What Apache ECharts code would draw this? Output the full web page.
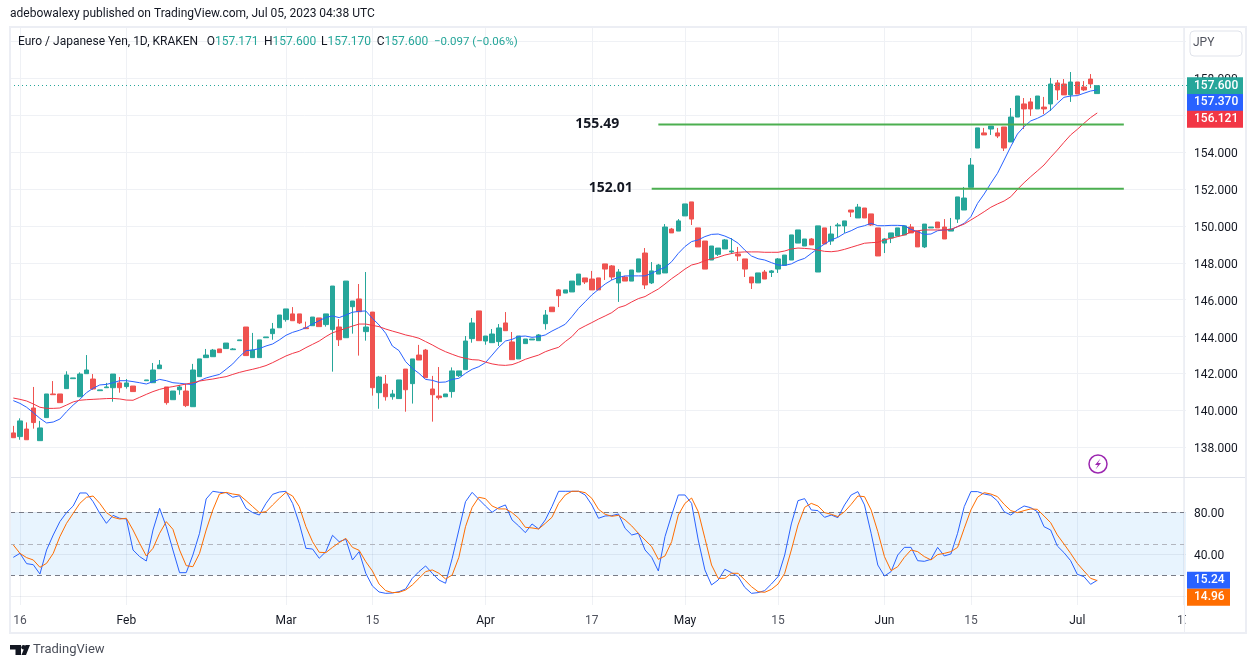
<!DOCTYPE html>
<html>
<head>
<meta charset="utf-8">
<title>EUR/JPY daily</title>
<script src="https://cdn.jsdelivr.net/npm/echarts@6/dist/echarts.min.js"></script>
<style>
  html, body { margin: 0; padding: 0; background: #fff; }
  #chart { width: 1256px; height: 668px; }
</style>
</head>
<body>
<div id="chart"></div>
<script>
// Daily candles, one entry per session; null marks the session without a print.
const opens = [
138.78,138.58,138.99,140.13,138.36,139.61,140.89,140.89,141.18,141.72,
140.74,141.99,141.70,141.07,141.23,141.23,141.49,141.29,141.32,null,
141.61,141.50,142.26,141.27,140.58,141.12,141.05,140.20,141.83,142.86,
142.91,143.33,143.35,143.29,143.78,144.52,142.86,142.86,143.94,144.16,
144.48,144.92,145.23,145.23,144.48,144.59,145.01,144.65,144.38,144.52,
143.94,145.62,146.04,144.27,145.33,140.96,141.43,140.74,140.64,142.24,
141.45,143.00,143.27,141.16,140.78,140.74,141.02,141.88,142.21,143.89,
145.39,143.76,143.67,143.73,144.74,143.71,142.79,143.62,143.82,143.78,
144.70,145.60,146.53,146.36,146.42,146.80,147.18,147.12,147.18,147.94,
147.83,146.91,147.23,147.01,147.50,148.53,146.91,147.39,147.45,149.83,
149.72,150.54,151.30,149.89,149.18,148.15,148.46,148.75,148.59,148.48,
148.21,147.23,146.91,147.50,147.48,147.66,147.86,148.15,149.07,148.91,
149.29,147.50,149.89,149.18,150.00,150.00,150.86,150.43,150.97,150.65,
149.89,149.07,149.34,149.45,149.51,149.94,149.72,148.86,149.89,150.21,
149.94,149.72,150.37,150.86,152.09,154.22,155.04,155.25,155.04,155.36,
154.55,155.90,156.61,156.72,156.34,156.44,156.61,157.75,157.69,157.10,
157.80,157.53,157.96,157.171];
const closes = [
138.52,139.43,138.41,139.34,139.05,140.89,140.85,140.42,141.92,141.76,
141.97,142.19,141.16,141.11,141.27,141.97,141.23,141.49,141.02,null,
141.65,142.19,142.46,140.42,141.05,141.27,140.26,142.19,142.79,143.00,
143.27,143.13,143.65,143.33,143.82,142.97,143.27,143.82,143.98,144.41,
145.17,145.50,144.86,144.74,144.43,145.06,144.54,145.23,146.74,143.83,
147.01,145.93,145.35,144.52,141.23,141.81,140.74,140.89,141.65,141.12,
142.79,142.73,141.77,140.85,140.69,140.89,142.14,142.14,143.76,144.74,
143.78,144.03,144.14,144.47,144.32,142.75,144.03,143.87,143.87,144.09,
145.17,145.35,146.22,146.53,147.01,147.39,146.96,146.53,146.53,147.66,
147.23,147.50,147.01,147.61,148.21,146.80,147.56,147.88,149.94,149.62,
150.27,151.19,150.37,148.86,147.66,148.91,148.80,149.24,148.64,148.37,
147.66,146.91,147.45,147.12,147.56,148.21,148.42,149.51,149.78,149.29,
148.97,150.00,149.02,149.56,150.05,150.27,150.75,151.02,150.43,150.05,
148.37,149.29,149.62,149.89,150.00,149.62,148.86,150.10,149.94,149.89,
149.29,149.83,151.57,151.51,153.30,155.31,154.93,155.41,154.87,154.22,
155.90,157.04,156.34,156.34,157.04,156.34,157.69,157.37,157.10,157.80,
157.15,157.37,157.697,157.60];
const lows = [
138.52,138.41,138.41,139.01,138.36,139.61,140.85,140.42,141.18,141.72,
140.74,141.99,141.11,141.07,141.23,140.47,140.96,141.18,141.02,null,
141.61,141.50,142.26,140.31,140.58,140.85,140.18,140.20,141.83,142.86,
142.91,143.13,143.35,143.29,143.78,142.97,142.86,142.86,143.94,143.83,
144.48,144.81,144.86,144.68,144.43,144.59,144.54,144.54,142.10,143.49,
143.94,144.16,142.97,143.78,140.80,140.09,140.53,140.58,140.64,139.93,
140.37,142.73,141.77,139.39,140.58,140.74,140.69,141.81,142.21,143.67,
143.78,143.56,143.67,143.49,144.32,142.75,142.79,143.62,143.82,143.78,
144.38,145.35,145.60,146.36,146.42,146.80,146.85,146.53,146.53,147.07,
147.07,145.88,147.01,147.01,147.50,146.58,146.85,147.39,147.45,149.62,
149.72,150.54,150.05,148.86,147.66,148.15,148.37,148.75,148.48,148.10,
147.23,146.58,146.91,147.12,147.23,147.45,147.86,148.15,149.07,148.91,
148.97,147.50,149.02,148.97,149.40,149.62,150.48,150.43,150.43,150.00,
148.37,148.53,149.07,149.45,149.51,149.62,148.86,148.80,149.89,149.89,
149.29,149.72,150.16,150.86,152.09,154.22,154.93,154.93,154.76,154.06,
154.55,155.90,155.25,155.96,156.34,156.06,156.23,156.82,157.10,156.72,
157.15,157.31,157.47,157.17];
const highs = [
139.16,139.57,139.35,141.27,139.43,140.89,141.59,140.89,142.12,141.76,
142.06,143.00,141.97,141.11,141.49,141.97,141.81,141.70,141.32,null,
141.65,142.57,142.73,141.27,141.05,141.38,141.43,142.52,142.79,143.33,
143.33,143.33,143.65,143.38,143.82,144.52,144.20,143.82,143.98,144.74,
145.17,145.50,145.60,145.23,144.81,145.06,145.01,145.23,146.74,144.95,
147.01,145.93,146.85,147.50,145.33,141.87,141.92,141.11,141.65,142.24,
142.79,143.55,143.33,141.87,142.35,140.89,142.33,142.14,144.03,145.01,
145.39,144.03,144.41,144.68,145.33,144.25,144.03,143.87,143.87,144.14,
145.44,145.60,146.58,146.53,147.01,147.39,147.18,147.56,147.18,147.94,
147.88,147.66,147.29,147.61,148.21,148.80,148.04,147.94,150.10,149.89,
150.37,151.19,151.30,149.89,149.18,148.91,148.80,149.29,149.34,148.86,
148.21,147.23,147.45,147.61,147.61,148.26,148.42,149.51,149.78,149.29,
149.34,150.00,149.89,150.00,150.16,150.27,150.86,151.19,150.97,150.65,
149.89,149.34,149.62,149.89,150.00,150.10,149.72,150.10,149.94,150.21,
150.37,150.43,151.57,152.11,153.68,155.31,155.31,155.41,155.31,155.36,
156.39,157.04,156.93,156.93,157.04,156.99,158.02,157.91,157.96,158.34,
157.80,157.85,158.23,157.60];

// Moving averages on the price pane.
const maFast = [
140.53,140.38,140.17,139.88,139.57,139.32,139.37,139.53,139.93,140.29,
140.60,140.96,141.20,141.38,141.41,141.50,141.61,141.61,141.56,141.50,
141.43,141.56,141.68,141.61,141.50,141.47,141.43,141.40,141.61,141.76,
141.86,141.95,142.23,142.52,142.91,143.24,143.27,143.35,143.49,143.60,
143.82,144.07,144.23,144.34,144.48,144.68,144.86,145.04,145.12,145.03,
145.17,145.32,145.37,145.39,144.99,144.63,144.18,143.49,143.24,142.64,
142.28,142.01,141.68,141.63,141.52,141.54,141.68,141.74,142.01,142.23,
142.37,142.59,143.00,143.42,143.76,143.85,144.01,144.03,143.96,144.00,
144.09,144.30,144.48,144.67,145.08,145.53,145.89,146.26,146.56,146.85,
147.07,147.21,147.29,147.29,147.29,147.29,147.43,147.61,147.75,148.06,
148.51,148.88,149.15,149.24,149.42,149.54,149.56,149.45,149.29,149.06,
148.69,148.37,148.22,148.15,148.01,147.88,147.86,147.94,148.12,148.24,
148.51,148.78,149.02,149.24,149.38,149.60,149.74,149.92,150.01,150.14,
150.01,150.01,150.03,150.03,150.01,149.81,149.69,149.54,149.56,149.74,
149.78,149.80,149.96,150.14,150.50,151.22,151.73,152.31,152.85,153.57,
154.30,154.98,155.38,155.69,155.83,156.01,156.28,156.64,156.97,157.04,
157.06,157.19,157.31,157.37];
const maSlow = [
140.67,140.60,140.51,140.35,140.17,140.11,140.11,140.13,140.29,140.46,
140.55,140.58,140.60,140.62,140.64,140.65,140.62,140.56,140.55,140.71,
140.87,141.02,141.14,141.23,141.29,141.36,141.43,141.50,141.59,141.65,
141.70,141.77,141.83,141.95,142.06,142.15,142.23,142.32,142.43,142.59,
142.77,142.95,143.09,143.20,143.40,143.58,143.76,144.00,144.21,144.32,
144.45,144.57,144.68,144.68,144.61,144.54,144.41,144.30,144.20,144.09,
144.01,143.91,143.73,143.55,143.35,143.18,143.04,142.91,142.82,142.75,
142.73,142.62,142.52,142.46,142.44,142.48,142.61,142.77,142.89,143.00,
143.18,143.31,143.42,143.73,144.00,144.39,144.58,144.76,144.95,145.12,
145.30,145.57,145.68,145.88,146.06,146.17,146.38,146.58,146.85,147.14,
147.39,147.66,147.88,147.97,148.12,148.21,148.30,148.42,148.50,148.57,
148.59,148.59,148.59,148.57,148.57,148.57,148.64,148.75,148.80,148.78,
148.75,148.69,148.62,148.60,148.64,148.73,148.84,148.95,149.06,149.09,
149.11,149.24,149.33,149.42,149.51,149.67,149.74,149.78,149.78,149.78,
149.78,149.81,149.96,150.10,150.32,150.54,150.77,151.01,151.19,151.35,
151.58,151.98,152.34,152.67,152.98,153.30,153.72,154.11,154.53,154.93,
155.23,155.56,155.87,156.121];

// Stochastic oscillator, %K and %D.
const stochK = [
37.1,40.9,31.1,30.1,21.2,44.1,58.4,71.1,79.7,86.0,
98.4,98.4,90.1,79.0,69.5,77.1,74.3,73.6,44.1,37.8,
33.6,63.1,83.8,66.3,44.1,22.5,22.5,39.3,60.0,92.7,
100,99.0,98.7,94.3,95.8,83.8,79.7,77.4,88.5,97.1,
99.3,100,88.5,69.5,45.7,45.0,36.2,42.5,58.1,52.0,
54.3,34.6,42.5,21.9,9.8,4.1,2.8,3.1,4.4,7.0,
17.1,23.5,28.9,21.9,15.5,12.4,36.2,63.1,90.1,99.0,
92.4,86.0,80.0,84.4,87.0,72.7,67.0,60.6,68.9,64.1,
72.7,85.4,100,100,100,100,96.5,87.0,74.3,76.5,
76.8,78.4,64.7,58.4,60.0,44.1,37.1,24.1,56.8,77.4,
96.5,96.5,88.5,53.6,25.1,10.8,15.5,25.7,22.5,18.7,
8.5,2.8,3.5,5.4,11.7,18.7,39.3,68.9,91.1,93.0,
82.2,81.6,75.2,77.4,74.9,87.0,96.5,99.7,87.0,60.0,
29.8,19.3,23.5,39.3,46.6,46.6,33.9,33.3,35.2,46.6,
38.4,40.3,60.0,85.4,99.7,99.7,97.4,96.2,90.8,80.6,
77.4,82.2,86.0,84.4,80.6,66.3,63.1,47.9,41.6,33.9,
20.9,18.7,11.4,15.24];
const stochD = [
48.9,40.9,36.8,34.6,27.6,31.4,40.9,56.8,69.5,79.0,
88.5,94.3,95.5,88.5,79.7,75.2,73.6,74.3,63.1,50.4,
38.4,45.7,60.0,71.1,63.8,44.1,29.2,28.2,40.9,63.1,
82.2,97.4,99.0,97.4,96.5,91.1,85.4,79.7,80.6,87.0,
93.3,99.0,95.5,85.4,66.3,52.0,41.9,41.6,46.6,51.1,
55.2,46.6,43.8,33.0,24.1,11.7,5.4,3.5,3.8,6.0,
10.8,17.1,23.5,25.1,21.9,16.5,20.3,37.1,66.3,84.7,
94.3,93.0,86.0,83.2,83.2,79.7,74.3,65.7,65.1,64.1,
69.5,75.2,88.5,96.5,100,100,98.7,93.3,82.8,78.1,
76.2,77.1,72.7,67.0,60.0,53.6,47.3,35.2,38.4,52.0,
77.4,88.5,93.6,80.6,55.2,29.8,17.1,17.1,21.9,21.9,
15.5,9.2,4.4,3.8,6.6,11.7,21.9,44.1,67.9,84.7,
88.5,86.0,79.7,78.1,75.9,80.6,87.6,95.5,94.9,82.2,
61.6,37.8,24.4,28.2,37.1,44.1,42.5,37.8,34.6,39.7,
40.9,42.5,46.6,64.7,82.2,94.3,98.7,97.4,94.9,87.6,
81.6,79.7,81.6,83.2,82.8,76.5,70.1,58.4,49.8,40.9,
31.4,24.1,17.1,14.96];

// Time scale: the session index of each labelled date.
const tickIndex = [1, 17, 41, 54, 71, 87, 101, 115, 131, 144, 160, 176];
const tickText = ['16', 'Feb', 'Mar', '15', 'Apr', '17', 'May', '15', 'Jun', '15', 'Jul', '17'];
const monthText = ['Feb', 'Mar', 'Apr', 'May', 'Jun', 'Jul'];
const sessionSlots = 177;

// Drawn support levels: [price, first session, last session].
const levelUpper = [155.49, 97, 167];
const levelLower = [152.01, 96, 167];

const stochBandLow = 20, stochBandMid = 50, stochBandHigh = 80;
const stochGrid = [0, 40, 80];
const stochLabels = [40, 80];
const priceChange = '−0.097 (−0.06%)';

const FONT = 'Roboto, sans-serif';
const INK = '#131722', GRID = '#eff1f5', FRAME = '#eceef4';
const UP = '#26A69A', DOWN = '#EF5350', BLUE = '#2962FF', RED = '#F23645', ORANGE = '#FF6D00', GREEN = '#4CAF50';

const categories = Array.from({ length: sessionSlots }, (_, i) => {
  const p = tickIndex.indexOf(i);
  return p >= 0 ? tickText[p] : '';
});
const isTick = (i) => tickIndex.indexOf(i) >= 0;
const candles = opens.map((o, i) => (o === null ? '-' : [o, closes[i], lows[i], highs[i]]));
const last = (a) => a[a.length - 1];

// Price scale text sits just under its grid line.
const scaleLabelRich = { s: { color: INK, fontSize: 12, fontFamily: FONT, padding: [4, 0, 0, 0] } };

// Value tag sitting on the price scale, attached to a level on the y axis.
function tag(value, digits, bg, width, dy) {
  return {
    yAxis: value,
    lineStyle: { color: 'transparent', width: 0 },
    label: {
      show: true, position: 'end', distance: 0,
      formatter: () => value.toFixed(digits),
      color: '#fff', backgroundColor: bg, fontFamily: FONT, fontSize: 12, fontWeight: 500,
      width: width, height: 17, lineHeight: 17, padding: [0, 0, 0, 7],
      offset: [0, dy]
    }
  };
}

function levelSeries(level, dist) {
  return {
    type: 'line', xAxisIndex: 0, yAxisIndex: 0,
    data: [
      { value: [level[1], level[0]], label: {
        show: true, position: 'left', distance: dist, offset: [0, -1], formatter: () => level[0].toFixed(2),
        fontFamily: '"Open Sans", sans-serif', fontSize: 14, fontWeight: 'bold', color: INK } },
      [level[2], level[0]]
    ],
    symbol: 'circle', symbolSize: 0, showSymbol: true, silent: true,
    lineStyle: { color: GREEN, width: 2 }, z: 3
  };
}

const hLine = (x1, y1, x2, y2, color, z, w) => ({
  type: 'line', silent: true, z: z,
  shape: { x1, y1, x2, y2 }, style: { stroke: color, lineWidth: w || 1 }
});
const headerText = (x, text) => ({
  type: 'text', silent: true, z: 8, x: x, y: 42,
  style: {
    text: text, font: '12px ' + FONT, fill: INK, verticalAlign: 'middle',
    rich: { v: { fill: UP, font: '12px ' + FONT } }
  }
});
const quote = (letter, value) => letter + '{v|' + value.toFixed(3) + '}';

const chart = echarts.init(document.getElementById('chart'), null, { renderer: 'canvas' });
chart.setOption({
  animation: false,
  backgroundColor: '#fff',
  textStyle: { fontFamily: FONT },
  grid: [
    { left: 10, width: 1177, top: 27.3, height: 456.9 },
    { left: 10, width: 1177, top: 477.3, height: 127.7 }
  ],
  xAxis: [
    {
      type: 'category', gridIndex: 0, data: categories,
      axisLine: { show: false }, axisTick: { show: false }, axisLabel: { show: false },
      splitLine: { show: true, alignWithLabel: true, interval: (i) => isTick(i), lineStyle: { color: GRID } }
    },
    {
      type: 'category', gridIndex: 1, data: categories,
      axisLine: { show: false }, axisTick: { show: false },
      axisLabel: {
        interval: (i) => isTick(i), margin: 10, fontSize: 12, fontFamily: FONT, hideOverlap: false,
        color: (v) => (monthText.indexOf(v) >= 0 ? INK : '#50535e')
      },
      splitLine: { show: true, alignWithLabel: true, interval: (i) => isTick(i), lineStyle: { color: GRID } }
    }
  ],
  yAxis: [
    {
      type: 'value', gridIndex: 0, position: 'right', min: 136, max: 160.764, interval: 2,
      axisLine: { show: false }, axisTick: { show: false },
      axisLabel: {
        showMinLabel: false, showMaxLabel: false, margin: 7, rich: scaleLabelRich,
        formatter: (v) => '{s|' + v.toFixed(3) + '}'
      },
      splitLine: { show: true, showMinLine: false, showMaxLine: false, lineStyle: { color: GRID } }
    },
    {
      type: 'value', gridIndex: 1, position: 'right', min: -8.3, max: 113.33,
      axisLine: { show: false }, axisTick: { show: false },
      axisLabel: {
        customValues: stochLabels, margin: 7, rich: scaleLabelRich,
        formatter: (v) => '{s|' + v.toFixed(2) + '}'
      },
      splitLine: { show: false }
    }
  ],
  series: [
    {
      name: 'EUR/JPY', type: 'candlestick', xAxisIndex: 0, yAxisIndex: 0, data: candles, barWidth: 5, silent: true,
      itemStyle: { color: UP, color0: DOWN, borderColor: UP, borderColor0: DOWN, borderWidth: 1 },
      markLine: {
        silent: true, symbol: ['none', 'none'], precision: 3,
        data: [Object.assign(tag(last(closes), 3, UP, 49, 0), {
          lineStyle: { color: UP, width: 1, type: [1, 3] }
        })]
      }
    },
    {
      name: 'MA fast', type: 'line', xAxisIndex: 0, yAxisIndex: 0, data: maFast, showSymbol: false, silent: true,
      lineStyle: { color: BLUE, width: 1 }, z: 3,
      markLine: { silent: true, symbol: ['none', 'none'], precision: 3, data: [tag(last(maFast), 3, BLUE, 49, 12.5)] }
    },
    {
      name: 'MA slow', type: 'line', xAxisIndex: 0, yAxisIndex: 0, data: maSlow, showSymbol: false, silent: true,
      lineStyle: { color: RED, width: 1 }, z: 3,
      markLine: { silent: true, symbol: ['none', 'none'], precision: 3, data: [tag(last(maSlow), 3, RED, 49, 6.4)] }
    },
    levelSeries(levelUpper, 39),
    levelSeries(levelLower, 19),
    {
      name: 'Stoch levels', type: 'line', xAxisIndex: 1, yAxisIndex: 1, data: [], silent: true, z: 1,
      markArea: {
        silent: true, z: 1, itemStyle: { color: 'rgba(33,150,243,0.1)' },
        data: [[{ yAxis: stochBandLow }, { yAxis: stochBandHigh }]]
      },
      markLine: {
        silent: true, z: 2, symbol: ['none', 'none'], label: { show: false },
        data: stochGrid.map((v) => ({ yAxis: v, lineStyle: { color: 'rgba(100,110,140,0.11)', width: 1, type: 'solid' } })).concat([
          { yAxis: stochBandHigh, lineStyle: { color: '#787B86', width: 1, type: [5, 4] } },
          { yAxis: stochBandMid, lineStyle: { color: '#B2B5BE', width: 1, type: [5, 4] } },
          { yAxis: stochBandLow, lineStyle: { color: '#787B86', width: 1, type: [5, 4] } }
        ])
      }
    },
    {
      name: '%K', type: 'line', xAxisIndex: 1, yAxisIndex: 1, data: stochK, showSymbol: false, silent: true,
      lineStyle: { color: BLUE, width: 1 }, z: 3,
      markLine: { silent: true, symbol: ['none', 'none'], precision: 2, data: [tag(last(stochK), 2, BLUE, 36, 0)] }
    },
    {
      name: '%D', type: 'line', xAxisIndex: 1, yAxisIndex: 1, data: stochD, showSymbol: false, silent: true,
      lineStyle: { color: ORANGE, width: 1 }, z: 3,
      markLine: { silent: true, symbol: ['none', 'none'], precision: 2, data: [tag(last(stochD), 2, ORANGE, 36, 16.6)] }
    }
  ],
  graphic: [
    // Narrow strip at the price scale edge: trims whatever runs past the plot's right side.
    { type: 'rect', silent: true, z: 3, shape: { x: 1186, y: 28, width: 6, height: 604 }, style: { fill: '#fff' } },
    hLine(1184.5, 27, 1184.5, 633, FRAME, 3.5),
    hLine(10, 477.5, 1246, 477.5, '#e0e3eb', 6),
    { type: 'rect', silent: true, z: 7, shape: { x: 10, y: 27, width: 1236, height: 606 },
      style: { fill: 'transparent', stroke: FRAME, lineWidth: 2 } },

    { type: 'text', silent: true, z: 8, x: 10, y: 14,
      style: { text: 'adebowalexy published on TradingView.com, Jul 05, 2023 04:38 UTC', font: '12px ' + FONT, fill: INK, verticalAlign: 'middle' } },
    headerText(18, 'Euro / Japanese Yen, 1D, KRAKEN'),
    headerText(206.7, quote('O', last(opens))),
    headerText(264, quote('H', last(highs))),
    headerText(321, quote('L', last(lows))),
    headerText(376.7, quote('C', last(closes))),
    { type: 'text', silent: true, z: 8, x: 434, y: 42,
      style: { text: priceChange, font: '11.5px ' + FONT, fill: UP, verticalAlign: 'middle' } },

    // Currency selector on the price scale.
    { type: 'rect', silent: true, z: 8, shape: { x: 1190, y: 31, width: 52, height: 25, r: 4 },
      style: { fill: '#fff', stroke: '#e0e3eb', lineWidth: 1 } },
    { type: 'text', silent: true, z: 9, x: 1193, y: 43,
      style: { text: 'JPY', font: '12px ' + FONT, fill: '#50535e', verticalAlign: 'middle' } },

    // Lightning badge.
    { type: 'circle', silent: true, z: 8, shape: { cx: 1098, cy: 464, r: 9 },
      style: { fill: '#fff', stroke: '#9C27B0', lineWidth: 1.5 } },
    { type: 'polygon', silent: true, z: 9,
      shape: { points: [[1100.5, 458.5], [1095, 465], [1098, 465], [1095.5, 469.5], [1101, 463], [1098, 463]] },
      style: { fill: '#9C27B0' } },

    // Footer logo.
    { type: 'polygon', silent: true, z: 8,
      shape: { points: [[10, 645], [21, 645], [21, 655], [15.5, 655], [15.5, 649.5], [10, 649.5]] }, style: { fill: INK } },
    { type: 'circle', silent: true, z: 8, shape: { cx: 23.5, cy: 647.2, r: 2.2 }, style: { fill: INK } },
    { type: 'polygon', silent: true, z: 8,
      shape: { points: [[25.5, 645], [30, 645], [26, 655], [21.5, 655]] }, style: { fill: INK } },
    { type: 'text', silent: true, z: 8, x: 33, y: 650,
      style: { text: 'TradingView', font: '13px ' + FONT, fill: '#4a4e59', verticalAlign: 'middle' } }
  ]
});
</script>
</body>
</html>
